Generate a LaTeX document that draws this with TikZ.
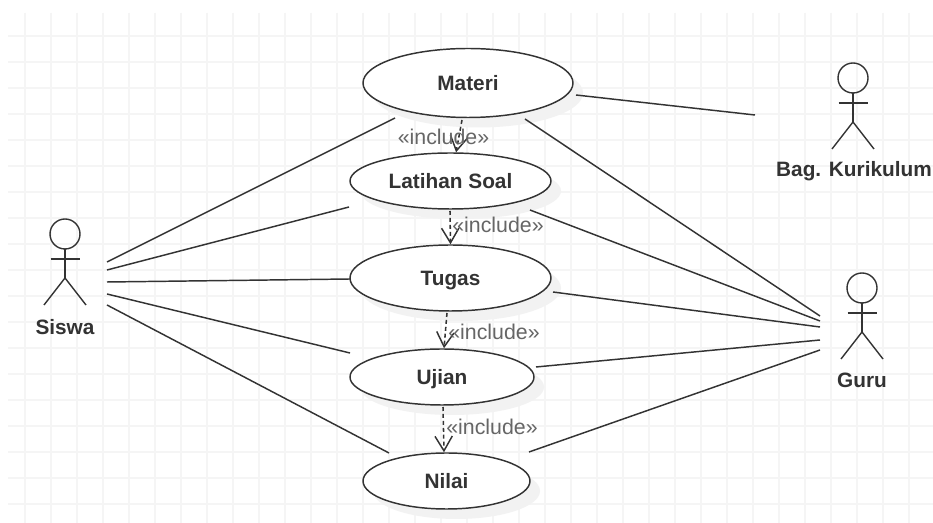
\documentclass[tikz,border=0pt]{standalone}
\usepackage{fontspec}
\setmainfont{Liberation Sans}
\usetikzlibrary{shapes.geometric,shadows,arrows.meta}
\definecolor{gridc}{HTML}{F5F5F5}
\definecolor{ink}{HTML}{333333}
\definecolor{shadowc}{HTML}{F2F2F2}
\definecolor{labelc}{HTML}{666666}
\tikzset{
  usecase/.style={ellipse,draw=ink,fill=white,line width=1.1pt,inner sep=0pt,
    font=\fontsize{15.6pt}{18pt}\selectfont\bfseries,text=ink,text depth=0pt,
    drop shadow={shadow xshift=7.5pt,shadow yshift=-7.5pt,fill=shadowc,opacity=1}},
  gridline/.style={gridc,line width=1.2pt},
  assoc/.style={ink,line width=1.1pt},
  inclusion/.style={ink,line width=1.15pt,dash pattern=on 3pt off 2.2pt,
    -{Straight Barb[length=11pt,width=13pt,line width=1.1pt]}},
  inclabel/.style={text=labelc,font=\fontsize{16pt}{18pt}\selectfont,inner sep=0pt},
  actorlabel/.style={text=ink,font=\fontsize{15.6pt}{18pt}\selectfont\bfseries,inner sep=0pt},
  actorline/.style={ink,line width=1.05pt}
}
\newcommand{\stickman}[2]{%
  \draw[actorline] (#1,#2) circle [radius=11.25pt];
  \draw[actorline] (#1,#2+15) -- (#1,#2+44);
  \draw[actorline] (#1-14.5,#2+25) -- (#1+14.5,#2+25);
  \draw[actorline] (#1-21,#2+71) -- (#1,#2+44) -- (#1+21,#2+71);
}
\begin{document}
\begin{tikzpicture}[x=0.75pt,y=-0.75pt]
\useasboundingbox (0,0) rectangle (933,523);
\fill[white] (0,0) rectangle (933,523);
% grid
\foreach \gx in {25,51,...,933} \draw[gridline] (\gx,13) -- (\gx,523);
\foreach \gy in {36,62,...,523} \draw[gridline] (8,\gy) -- (933,\gy);
% use cases
\node[usecase,minimum width=157.5pt,minimum height=51.75pt] (materi) at (468,83) {Materi};
\node[usecase,minimum width=150.75pt,minimum height=42pt] (latihan) at (450.5,181) {Latihan Soal};
\node[usecase,minimum width=150.75pt,minimum height=49.5pt] (tugas) at (450.5,278) {Tugas};
\node[usecase,minimum width=138pt,minimum height=42pt] (ujian) at (442,377) {Ujian};
\node[usecase,minimum width=125.25pt,minimum height=42pt] (nilai) at (446.5,481) {Nilai};
% actors
\stickman{65}{234}
\stickman{853}{78}
\stickman{862}{288}
\node[actorlabel] (siswa) at (65,327) {Siswa};
\node[actorlabel] (kurikulum) at (854,171) {Bag. Kurikulum};
\node[actorlabel] (guru) at (862,380) {Guru};
% connector ends
\coordinate (sa) at (107,262); \coordinate (sb) at (107,270); \coordinate (sc) at (107,282);
\coordinate (sd) at (107,294); \coordinate (se) at (107,305);
\coordinate (ga) at (820,316); \coordinate (gb) at (820,321); \coordinate (gc) at (820,327);
\coordinate (gd) at (820,340); \coordinate (ge) at (820,350);
\coordinate (ka) at (755,115);
\coordinate (ml) at (395,118); \coordinate (mr) at (525,119); \coordinate (mk) at (576,95);
\coordinate (ll) at (349,207); \coordinate (lr) at (530,210);
\coordinate (tl) at (350,279); \coordinate (tr) at (553,292);
\coordinate (ul) at (350,353); \coordinate (ur) at (536,367);
\coordinate (nl) at (389,453); \coordinate (nr) at (529,452);
% associations
\draw[assoc] (sa) -- (ml);
\draw[assoc] (sb) -- (ll);
\draw[assoc] (sc) -- (tl);
\draw[assoc] (sd) -- (ul);
\draw[assoc] (se) -- (nl);
\draw[assoc] (mr) -- (ga);
\draw[assoc] (lr) -- (gb);
\draw[assoc] (tr) -- (gc);
\draw[assoc] (ur) -- (gd);
\draw[assoc] (nr) -- (ge);
\draw[assoc] (mk) -- (ka);
% includes
\coordinate (ia) at (462,120); \coordinate (ib) at (450,211); \coordinate (ic) at (447,313); \coordinate (id) at (443,407);
\draw[inclusion] (ia) -- (latihan.79);
\draw[inclusion] (ib) -- (tugas.north);
\draw[inclusion] (ic) -- (ujian.86);
\draw[inclusion] (id) -- (nilai.95);
\node[inclabel] (la) at (443.5,137) {«include»};
\node[inclabel] (lb) at (498,225) {«include»};
\node[inclabel] (lc) at (494,332) {«include»};
\node[inclabel] (ld) at (492,427) {«include»};
\end{tikzpicture}
\end{document}
